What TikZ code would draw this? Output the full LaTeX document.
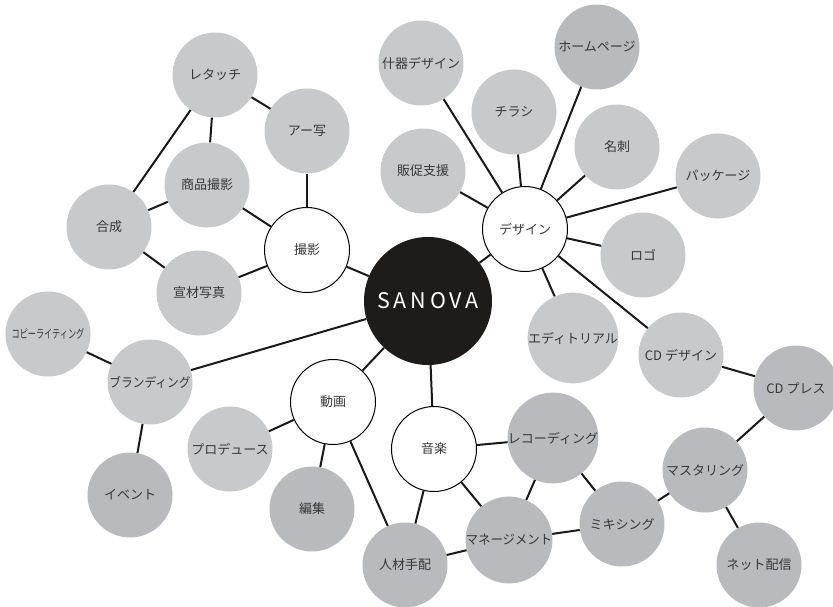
\documentclass[tikz,border=0pt]{standalone}
\usepackage{fontspec}
\setmainfont{Noto Sans CJK JP}
\newfontfamily\logofont[LetterSpace=18]{Noto Sans CJK JP}
\usetikzlibrary{shapes,positioning}
\definecolor{lightgrey}{RGB}{200,201,203}
\definecolor{darkgrey}{RGB}{185,186,189}
\definecolor{corefill}{RGB}{30,27,27}
\definecolor{labeltext}{RGB}{55,55,55}

\begin{document}
\begin{tikzpicture}[
    x=1pt, y=-1pt,
    item/.style={circle, fill=lightgrey, minimum size=85pt, inner sep=0pt, text=labeltext, font=\fontsize{13}{15}\selectfont},
    itemdark/.style={item, fill=darkgrey},
    hub/.style={circle, draw, line width=1pt, fill=white, minimum size=85pt, inner sep=0pt, text=labeltext, font=\fontsize{13}{15}\selectfont},
    link/.style={line width=2pt, black!90}
]
\useasboundingbox (0,0) rectangle (833,606);

% center
\node[circle, fill=corefill, minimum size=128pt, inner sep=0pt, text=white, font=\logofont\fontsize{21.5}{24}\selectfont] (sanova) at (428,301) {SANOVA};

% hubs
\node[hub] (photo) at (307,250) {撮影};
\node[hub] (design) at (525,229) {デザイン};
\node[hub] (movie) at (333,402) {動画};
\node[hub] (music) at (434,449) {音楽};

% photo group
\node[item] (retouch) at (215,75) {レタッチ};
\node[item] (artist) at (307,131) {アー写};
\node[item] (product) at (207,185) {商品撮影};
\node[item] (composite) at (109,227) {合成};
\node[item] (promo) at (199,293) {宣材写真};

% design group
\node[item] (fixture) at (421,63) {什器デザイン};
\node[item] (flyer) at (514,112) {チラシ};
\node[itemdark] (homepage) at (597,47) {ホームページ};
\node[item] (card) at (617,147) {名刺};
\node[item] (sales) at (423,171) {販促支援};
\node[item] (package) at (718,176) {パッケージ};
\node[item] (logo) at (643,255) {ロゴ};
\node[item] (editorial) at (573,338) {エディトリアル};
\node[item] (cddesign) at (681,355) {CD デザイン};
\node[itemdark] (cdpress) at (796,388) {CD プレス};

% branding group
\node[item] (copy) at (48,334) {\fontsize{12}{14}\selectfont\scalebox{0.68}[1]{コピーライティング}};
\node[item] (branding) at (150,382) {\scalebox{0.9}[1]{ブランディング}};
\node[itemdark] (event) at (130,495) {イベント};

% movie group
\node[item] (produce) at (230,449) {プロデュース};
\node[itemdark] (edit) at (312,509) {編集};
\node[itemdark] (staffing) at (405,565) {人材手配};

% music group
\node[itemdark] (recording) at (553,438) {レコーディング};
\node[itemdark] (mastering) at (705,470) {マスタリング};
\node[itemdark] (mixing) at (622,524) {ミキシング};
\node[itemdark] (management) at (509,540) {\scalebox{0.95}[1]{マネージメント}};
\node[itemdark] (netdist) at (759,565) {ネット配信};

\draw[link] (retouch) -- (artist);
\draw[link] (retouch) -- (product);
\draw[link] (retouch) -- (composite);
\draw[link] (product) -- (composite);
\draw[link] (product) -- (photo);
\draw[link] (artist) -- (photo);
\draw[link] (composite) -- (promo);
\draw[link] (promo) -- (photo);
\draw[link] (photo) -- (sanova);

\draw[link] (sanova) -- (design);
\draw[link] (design) -- (fixture);
\draw[link] (design) -- (flyer);
\draw[link] (design) -- (homepage);
\draw[link] (design) -- (card);
\draw[link] (design) -- (package);
\draw[link] (design) -- (logo);
\draw[link] (design) -- (sales);
\draw[link] (design) -- (editorial);
\draw[link] (design) -- (cddesign);
\draw[link] (cddesign) -- (cdpress);
\draw[link] (cdpress) -- (mastering);

\draw[link] (mastering) -- (netdist);
\draw[link] (mastering) -- (mixing);
\draw[link] (mixing) -- (recording);
\draw[link] (mixing) -- (management);
\draw[link] (recording) -- (music);
\draw[link] (recording) -- (management);
\draw[link] (music) -- (management);
\draw[link] (music) -- (staffing);
\draw[link] (music) -- (sanova);
\draw[link] (management) -- (staffing);

\draw[link] (staffing) -- (movie);
\draw[link] (movie) -- (edit);
\draw[link] (movie) -- (produce);
\draw[link] (movie) -- (sanova);

\draw[link] (sanova) -- (branding);
\draw[link] (branding) -- (copy);
\draw[link] (branding) -- (event);

\end{tikzpicture}
\end{document}
